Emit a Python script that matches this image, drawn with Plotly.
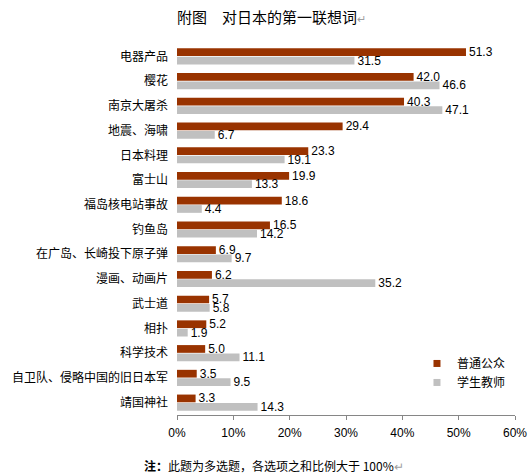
import plotly.graph_objects as go

categories = ["电器产品", "樱花", "南京大屠杀", "地震、海啸", "日本料理", "富士山",
              "福岛核电站事故", "钓鱼岛", "在广岛、长崎投下原子弹", "漫画、动画片",
              "武士道", "相扑", "科学技术", "自卫队、侵略中国的旧日本军", "靖国神社"]
public = [51.3, 42.0, 40.3, 29.4, 23.3, 19.9, 18.6, 16.5, 6.9, 6.2, 5.7, 5.2, 5.0, 3.5, 3.3]
students = [31.5, 46.6, 47.1, 6.7, 19.1, 13.3, 4.4, 14.2, 9.7, 35.2, 5.8, 1.9, 11.1, 9.5, 14.3]
series_names = ["普通公众", "学生教师"]
colors = ["#993300", "#C0C0C0"]
x_ticks = [0, 10, 20, 30, 40, 50, 60]

font_main = "Liberation Sans, Noto Sans CJK SC, sans-serif"

fig = go.Figure()
for name, vals, col in zip(series_names, [public, students], colors):
    fig.add_trace(go.Bar(
        y=categories, x=vals, orientation="h", name=name,
        marker=dict(color=col, line=dict(width=0)),
        text=[f"{v:.1f}" for v in vals], textposition="outside",
        constraintext="none", cliponaxis=False,
        textfont=dict(size=12, color="black", family=font_main),
        showlegend=False,
    ))
    # legend entry with a small square
    fig.add_trace(go.Scatter(
        x=[None], y=[None], mode="markers", name=name, legendgroup=name,
        marker=dict(symbol="square", size=7, color=col),
    ))

fig.update_layout(
    width=531, height=475,
    margin=dict(l=177, r=16, t=44, b=60, autoexpand=False),
    plot_bgcolor="white", paper_bgcolor="white",
    barmode="group", bargap=0.32, bargroupgap=0.08,
    font=dict(family=font_main, size=12, color="black"),
    legend=dict(x=0.71, y=0.178, xanchor="left", yanchor="top",
                font=dict(size=12, family="Noto Sans CJK SC"),
                tracegroupgap=3, traceorder="normal",
                bgcolor="rgba(0,0,0,0)", itemwidth=30),
    xaxis=dict(range=[0, 60], tickvals=x_ticks, ticktext=[f"{t}%" for t in x_ticks],
               showgrid=False, zeroline=False, showline=True, linecolor="#868686",
               linewidth=1, ticks="outside", ticklen=4, tickcolor="#868686",
               ticklabelstandoff=3, automargin=False,
               tickfont=dict(size=12), fixedrange=True),
    yaxis=dict(autorange="reversed", showgrid=False, zeroline=False, showline=False,
               ticks="", ticklabelstandoff=8, automargin=False, fixedrange=True,
               tickfont=dict(size=12, family="Noto Sans CJK SC")),
    annotations=[
        dict(text="附图　对日本的第一联想词<span style='color:#A0A0A0;font-size:11px'>↵</span>",
             xref="paper", yref="paper", x=0.28, y=1.074, xanchor="center", yanchor="middle",
             showarrow=False, font=dict(size=15, family="Noto Sans CJK SC")),
        dict(text="<b>注：</b>此题为多选题，各选项之和比例大于 100%<span style='color:#A0A0A0'>↵</span>",
             xref="paper", yref="paper", x=0.287, y=-0.136, xanchor="center", yanchor="middle",
             showarrow=False, font=dict(size=12, family="Noto Sans CJK SC")),
    ],
)

# page body has a default 8px margin; drop it so the figure fills the window
fig.write_html("out.html", config={"displayModeBar": False},
               post_script="document.body.style.margin='0';")
